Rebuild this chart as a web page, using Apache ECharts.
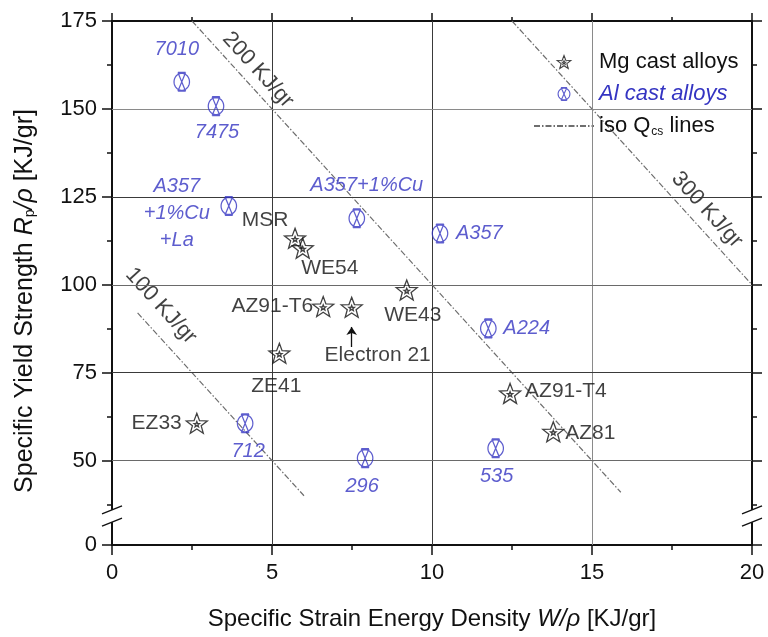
<!DOCTYPE html>
<html>
<head>
<meta charset="utf-8">
<script src="https://cdn.jsdelivr.net/npm/echarts@6/dist/echarts.min.js"></script>
<style>
  html, body { margin: 0; padding: 0; background: #fff; }
  #chart { width: 768px; height: 637px; }
</style>
</head>
<body>
<div id="chart"></div>
<script>
// ---- data ----
// Al cast alloys: specific strain energy density W/rho and specific yield strength Rp/rho
const alNames = ['7010', '7475', 'A357\n+1%Cu\n+La', 'A357+1%Cu', 'A357', 'A224', '712', '296', '535'];
const alW = [2.18, 3.25, 3.65, 7.65, 10.25, 11.76, 4.16, 7.91, 11.99];
const alR = [157.7, 150.8, 122.4, 118.9, 114.6, 87.6, 60.6, 50.7, 53.5];

// Mg cast alloys
const mgNames = ['MSR', 'WE54', 'AZ91-T6', 'Electron 21', 'WE43', 'ZE41', 'EZ33', 'AZ91-T4', 'AZ81'];
const mgW = [5.72, 5.96, 6.60, 7.49, 9.21, 5.23, 2.65, 12.44, 13.79];
const mgR = [113.2, 110.4, 93.8, 93.6, 98.5, 80.5, 60.6, 69.1, 58.2];

// iso Qcs lines, end points [W, R]
const isoNames = ['100 KJ/gr', '200 KJ/gr', '300 KJ/gr'];
const iso100 = [[0.8, 92], [6, 40]];
const iso200 = [[2.5, 175], [15.9, 41]];
const iso300 = [[12.5, 175], [20, 100]];

// axis ticks
const xTicks = [0, 5, 10, 15, 20];
const yTicks = [50, 75, 100, 125, 150, 175];
const yMinorTicks = [37.5, 62.5, 87.5, 112.5, 137.5, 162.5];

// ---- layout / style ----
const FONT = '"Liberation Sans", Arial, Helvetica, sans-serif';
const INK = '#111';
const BLUE = '#3434c2';
const Y_ZERO = 26;            // where the "0" sits below the axis break
const yMajor = [Y_ZERO].concat(yTicks);

// label anchor of each iso line caption, in data units
const isoLabelAt = [[1.53, 94.0], [4.56, 161.1], [18.59, 121.3]];
// arrow pointing at Electron 21
const electronArrow = [[7.49, 82.3], [7.49, 88.0]];

// label offsets (px) from the marker centre
const alPlace = {
  '7010': { dx: -5, dy: -32 },
  '7475': { dx: 1, dy: 26 },
  'A357\n+1%Cu\n+La': { dx: -52, dy: 7 },
  'A357+1%Cu': { dx: 10, dy: -33 },
  'A357': { dx: 16, dy: 0, align: 'left' },
  'A224': { dx: 15, dy: 0, align: 'left' },
  '712': { dx: 3, dy: 28 },
  '296': { dx: -3, dy: 28 },
  '535': { dx: 1, dy: 28 }
};
const mgPlace = {
  'MSR': { dx: -30, dy: -18 },
  'WE54': { dx: 27, dy: 20 },
  'AZ91-T6': { dx: -10, dy: 0, align: 'right' },
  'Electron 21': { dx: 26, dy: 48 },
  'WE43': { dx: 6, dy: 25 },
  'ZE41': { dx: -3, dy: 33 },
  'EZ33': { dx: -15, dy: 0, align: 'right' },
  'AZ91-T4': { dx: 15, dy: -2, align: 'left' },
  'AZ81': { dx: 12, dy: 1, align: 'left' }
};

function place(p) {
  return { position: 'inside', offset: [p.dx, p.dy], align: p.align || 'center', verticalAlign: 'middle' };
}

// outline star with a small star in its middle
function starPath(R, r) {
  const pts = [];
  for (let i = 0; i < 10; i++) {
    const a = -Math.PI / 2 + i * Math.PI / 5;
    const d = i % 2 ? r : R;
    pts.push((d * Math.cos(a)).toFixed(2) + ',' + (d * Math.sin(a)).toFixed(2));
  }
  return 'M' + pts.join('L') + 'Z';
}
// circle (as a fine polygon) crossed by an hourglass with short caps
function crossedCircle() {
  const pts = [];
  for (let i = 0; i < 40; i++) {
    const a = i * Math.PI / 20;
    pts.push((10 + 10 * Math.cos(a)).toFixed(2) + ',' + (11 + 10 * Math.sin(a)).toFixed(2));
  }
  return 'M' + pts.join('L') + 'Z M5,0L15,0 M5,22L15,22 M5,0L15,22 M15,0L5,22';
}
const MG_SYMBOL = 'path://' + starPath(10, 4.2) + starPath(2.6, 1.1);
const AL_SYMBOL = 'path://' + crossedCircle();

const alData = alNames.map((n, i) => ({ name: n, value: [alW[i], alR[i]], label: place(alPlace[n]) }));
const mgData = mgNames.map((n, i) => ({ name: n, value: [mgW[i], mgR[i]], label: place(mgPlace[n]) }));
const isoLabelData = isoNames.map((n, i) => ({ name: n, value: isoLabelAt[i] }));

const gridLines = [
  { xAxis: 5, lineStyle: { color: '#3a3a3a' } },
  { xAxis: 10, lineStyle: { color: '#3a3a3a' } },
  { xAxis: 15, lineStyle: { color: '#8a8a8a' } },
  { yAxis: 50, lineStyle: { color: '#6a6a6a' } },
  { yAxis: 75, lineStyle: { color: '#3a3a3a' } },
  { yAxis: 100, lineStyle: { color: '#6a6a6a' } },
  { yAxis: 125, lineStyle: { color: '#3a3a3a' } },
  { yAxis: 150, lineStyle: { color: '#8a8a8a' } }
];

const isoStyle = { color: '#6e6e6e', width: 1.2, type: [6, 2, 1.5, 2] };
const ISO_LEGEND = 'iso Qcs lines';

function axisBase(extra) {
  return Object.assign({
    type: 'value',
    splitLine: { show: false },
    axisLine: { show: true, onZero: false, lineStyle: { color: INK, width: 2 } }
  }, extra);
}

const chart = echarts.init(document.getElementById('chart'));
chart.setOption({
  animation: false,
  backgroundColor: '#fff',
  grid: { left: 112, right: 16, top: 21, bottom: 92, containLabel: false, outerBoundsMode: 'none' },
  legend: {
    orient: 'vertical',
    left: 528,
    top: 46,
    itemWidth: 60,
    itemHeight: 13,
    itemGap: 10,
    selectedMode: false,
    textStyle: {
      fontFamily: FONT, fontSize: 22, color: INK, lineHeight: 22,
      rich: { sub: { fontFamily: FONT, fontSize: 12, color: INK, padding: [12, 0, 0, 1] } }
    },
    formatter: n => (n === ISO_LEGEND ? 'iso Q{sub|cs} lines' : n),
    data: [
      { name: 'Mg cast alloys', itemStyle: { color: 'rgba(0,0,0,0)', borderColor: INK, borderWidth: 1.1 } },
      { name: 'Al cast alloys', textStyle: { color: BLUE, fontStyle: 'italic' },
        itemStyle: { color: 'rgba(0,0,0,0)', borderColor: BLUE, borderWidth: 1.1 } },
      { name: ISO_LEGEND, itemStyle: { opacity: 0 } }
    ]
  },
  xAxis: [
    axisBase({
      position: 'bottom', min: xTicks[0], max: xTicks[xTicks.length - 1], interval: 5,
      axisTick: { length: 10, lineStyle: { color: INK, width: 1.5 } },
      minorTick: { show: true, splitNumber: 2, length: 5, lineStyle: { color: INK, width: 1.5 } },
      axisLabel: { fontFamily: FONT, fontSize: 22, color: INK, margin: 17 },
      name: 'Specific Strain Energy Density {i|W/ρ} [KJ/gr]',
      nameLocation: 'middle',
      nameGap: 62,
      nameTextStyle: {
        fontFamily: FONT, fontSize: 24, color: INK,
        rich: { i: { fontFamily: FONT, fontSize: 24, fontStyle: 'italic', color: INK } }
      }
    }),
    axisBase({
      position: 'top', min: xTicks[0], max: xTicks[xTicks.length - 1], interval: 5,
      axisTick: { length: 8, lineStyle: { color: INK, width: 1.5 } },
      minorTick: { show: true, splitNumber: 2, length: 4, lineStyle: { color: INK, width: 1.5 } },
      axisLabel: { show: false }
    })
  ],
  yAxis: [
    axisBase({
      position: 'left', min: Y_ZERO, max: 175,
      axisTick: { show: true, customValues: yMajor, length: 10, lineStyle: { color: INK, width: 1.5 } },
      axisLabel: {
        customValues: yMajor,
        formatter: v => (v === Y_ZERO ? '0' : String(v)),
        fontFamily: FONT, fontSize: 22, color: INK, margin: 15
      }
    }),
    axisBase({
      position: 'left', min: Y_ZERO, max: 175,
      axisLine: { show: false, onZero: false },
      axisTick: { show: true, customValues: yMinorTicks, length: 5, lineStyle: { color: INK, width: 1.5 } },
      axisLabel: { show: false }
    }),
    axisBase({
      position: 'right', min: Y_ZERO, max: 175,
      axisTick: { show: true, customValues: yMajor, length: 10, lineStyle: { color: INK, width: 1.5 } },
      axisLabel: { show: false }
    }),
    axisBase({
      position: 'right', min: Y_ZERO, max: 175,
      axisLine: { show: false, onZero: false },
      axisTick: { show: true, customValues: yMinorTicks, length: 5, lineStyle: { color: INK, width: 1.5 } },
      axisLabel: { show: false }
    })
  ],
  series: [
    {
      // plot grid
      type: 'scatter',
      data: [],
      silent: true,
      z: 1,
      markLine: {
        silent: true,
        symbol: ['none', 'none'],
        label: { show: false },
        lineStyle: { type: 'solid', width: 1 },
        data: gridLines,
        animation: false
      }
    },
    ...[iso100, iso200, iso300].map(d => ({
      name: ISO_LEGEND,
      type: 'line',
      data: d,
      symbol: 'none',
      silent: true,
      z: 2,
      lineStyle: isoStyle,
      itemStyle: { color: '#6e6e6e' }
    })),
    {
      // iso line captions
      type: 'scatter',
      data: isoLabelData,
      symbolSize: 1,
      itemStyle: { color: 'rgba(0,0,0,0)' },
      silent: true,
      z: 3,
      label: {
        show: true, formatter: '{b}', position: 'inside', rotate: -47.7,
        fontFamily: FONT, fontSize: 22, color: INK
      }
    },
    {
      name: 'Mg cast alloys',
      type: 'scatter',
      data: mgData,
      symbol: MG_SYMBOL,
      symbolSize: 21,
      symbolKeepAspect: true,
      silent: true,
      z: 5,
      itemStyle: { color: 'rgba(0,0,0,0)', borderColor: INK, borderWidth: 1.3 },
      label: { show: true, formatter: '{b}', fontFamily: FONT, fontSize: 21, color: INK, textBorderWidth: 0 },
      markLine: {
        silent: true,
        symbol: ['none', 'arrow'],
        symbolSize: 8,
        label: { show: false },
        lineStyle: { color: INK, width: 1.3, type: 'solid' },
        data: [[{ coord: electronArrow[0] }, { coord: electronArrow[1] }]],
        animation: false
      }
    },
    {
      name: 'Al cast alloys',
      type: 'scatter',
      data: alData,
      symbol: AL_SYMBOL,
      symbolSize: [17, 18.7],
      symbolKeepAspect: true,
      silent: true,
      z: 5,
      itemStyle: { color: 'rgba(0,0,0,0)', borderColor: BLUE, borderWidth: 1.3 },
      label: {
        show: true, formatter: '{b}', fontFamily: FONT, fontSize: 20, fontStyle: 'italic',
        color: BLUE, lineHeight: 27, textBorderWidth: 0
      }
    }
  ]
});

// y axis title and the axis break marks on the left and right frame
function decorations() {
  const els = [{
    type: 'text',
    x: 25,
    y: 301,
    rotation: Math.PI / 2,
    silent: true,
    style: {
      text: 'Specific Yield Strength {i|R}{sub|p}{i|/ρ} [KJ/gr]',
      fontFamily: FONT, fontSize: 25, fill: INK,
      align: 'center', verticalAlign: 'middle',
      rich: {
        i: { fontFamily: FONT, fontSize: 25, fontStyle: 'italic', fill: INK },
        sub: { fontFamily: FONT, fontSize: 14, fill: INK, padding: [11, 0, 0, 0] }
      }
    }
  }];
  xTicks.filter((v, i) => i === 0 || i === xTicks.length - 1).forEach(xv => {
    const a = chart.convertToPixel({ gridIndex: 0 }, [xv, 36]);
    const b = chart.convertToPixel({ gridIndex: 0 }, [xv, 32.5]);
    els.push({ type: 'rect', z: 100, shape: { x: a[0] - 3, y: a[1], width: 6, height: b[1] - a[1] }, style: { fill: '#fff' } });
    [a, b].forEach(p => els.push({
      type: 'line', z: 101,
      shape: { x1: p[0] - 10, y1: p[1] + 4, x2: p[0] + 10, y2: p[1] - 4 },
      style: { stroke: INK, lineWidth: 1.5 }
    }));
  });
  chart.setOption({ graphic: els });
}
decorations();
</script>
</body>
</html>
